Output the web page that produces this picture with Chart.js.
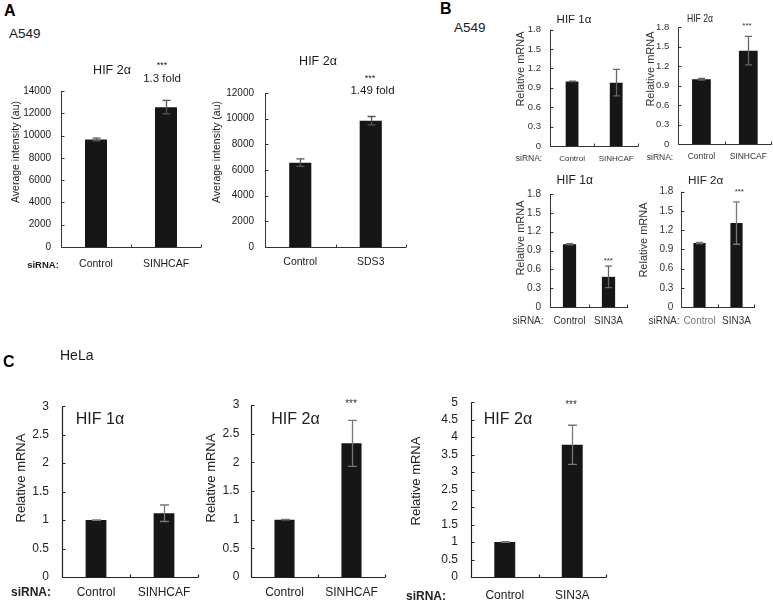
<!DOCTYPE html>
<html>
<head>
<meta charset="utf-8">
<script src="https://cdn.jsdelivr.net/npm/chart.js@4.4.1/dist/chart.umd.min.js"></script>
<style>
  html, body { margin: 0; padding: 0; background: #fff; overflow: hidden; }
  #fig { position: relative; width: 773px; height: 614px; }
  #fig canvas { position: absolute; }
  .txt { position: absolute; white-space: nowrap; line-height: 1; font-family: 'Liberation Sans', Arial, Helvetica, sans-serif; z-index: 2; }
</style>
</head>
<body>
<div id="fig"></div>
<script>
// ---- data ----
// A: A549, HIF 2α average intensity
const a1Categories = ['Control', 'SINHCAF'];
const a1Values = [9650, 12550];
const a1Errors = [120, 600];
const a1Ticks = [0, 2000, 4000, 6000, 8000, 10000, 12000, 14000];

const a2Categories = ['Control', 'SDS3'];
const a2Values = [6570, 9840];
const a2Errors = [290, 330];
const a2Ticks = [0, 2000, 4000, 6000, 8000, 10000, 12000];

// B: A549, relative mRNA
const bTicks = [0, 0.3, 0.6, 0.9, 1.2, 1.5, 1.8];
const b1Categories = ['Control', 'SINHCAF'];
const b1Values = [1.0, 0.98];
const b1Errors = [0.004, 0.205];
const b2Categories = ['Control', 'SINHCAF'];
const b2Values = [1.0, 1.44];
const b2Errors = [0.012, 0.22];
const b3Categories = ['Control', 'SIN3A'];
const b3Values = [1.0, 0.48];
const b3Errors = [0.01, 0.17];
const b4Categories = ['Control', 'SIN3A'];
const b4Values = [1.0, 1.31];
const b4Errors = [0.01, 0.33];

// C: HeLa, relative mRNA
const cTicks3 = [0, 0.5, 1, 1.5, 2, 2.5, 3];
const cTicks5 = [0, 0.5, 1, 1.5, 2, 2.5, 3, 3.5, 4, 4.5, 5];
const c1Categories = ['Control', 'SINHCAF'];
const c1Values = [1.0, 1.12];
const c1Errors = [0.005, 0.145];
const c2Categories = ['Control', 'SINHCAF'];
const c2Values = [1.0, 2.33];
const c2Errors = [0.005, 0.40];
const c3Categories = ['Control', 'SIN3A'];
const c3Values = [1.0, 3.78];
const c3Errors = [0.01, 0.56];

const FONT = "'Liberation Sans', Arial, Helvetica, sans-serif";
const fig = document.getElementById('fig');

// error bars + hand drawn axes (ticks point inwards like the original)
const decor = {
  id: 'decor',
  afterDatasetsDraw(chart, args, o) {
    const { ctx, chartArea: a, scales: { x, y } } = chart;
    const meta = chart.getDatasetMeta(0);
    const vals = chart.data.datasets[0].data;
    ctx.save();
    ctx.strokeStyle = o.errColor;
    ctx.lineWidth = o.errWidth;
    meta.data.forEach((bar, i) => {
      const hi = y.getPixelForValue(vals[i] + o.errors[i]);
      const lo = y.getPixelForValue(vals[i] - o.errors[i]);
      const cx = Math.round(bar.x) + 0.5;
      ctx.beginPath();
      ctx.moveTo(cx, hi); ctx.lineTo(cx, lo);
      ctx.moveTo(cx - o.cap, hi); ctx.lineTo(cx + o.cap, hi);
      ctx.moveTo(cx - o.cap, lo); ctx.lineTo(cx + o.cap, lo);
      ctx.stroke();
    });
    ctx.strokeStyle = o.axisColor;
    ctx.lineWidth = o.axisWidth;
    const left = a.left + 0.5, bottom = a.bottom + 0.5;
    ctx.beginPath();
    ctx.moveTo(left, a.top); ctx.lineTo(left, bottom); ctx.lineTo(a.right, bottom);
    y.ticks.forEach(t => {
      const py = Math.round(y.getPixelForValue(t.value)) + 0.5;
      ctx.moveTo(left, py); ctx.lineTo(left + o.tick, py);
    });
    const n = x.ticks.length;
    for (let i = 1; i <= n; i++) {
      const px = i < n ? (x.getPixelForValue(i - 1) + x.getPixelForValue(i)) / 2 : a.right - 0.5;
      ctx.moveTo(Math.round(px) + 0.5, bottom); ctx.lineTo(Math.round(px) + 0.5, bottom - o.tick);
    }
    ctx.stroke();
    ctx.restore();
  }
};

const L = 56, T = 10, R = 3, BOT = 26;

function panel(p) {
  const x0 = Math.round(p.x0), x1 = Math.round(p.x1), yT = Math.round(p.yT), yZ = Math.round(p.yZ);
  const cv = document.createElement('canvas');
  cv.width = x1 - x0 + L + R;
  cv.height = yZ - yT + T + BOT;
  cv.style.left = (x0 - L) + 'px';
  cv.style.top = (yT - T) + 'px';
  fig.appendChild(cv);
  const catColors = p.catColors || [p.textColor, p.textColor];
  new Chart(cv, {
    type: 'bar',
    data: {
      labels: p.categories,
      datasets: [{
        data: p.values,
        backgroundColor: '#161616',
        borderWidth: 0,
        barPercentage: p.bar,
        categoryPercentage: 1
      }]
    },
    options: {
      responsive: false,
      animation: false,
      devicePixelRatio: 1,
      layout: { padding: { top: T, right: R, left: 0, bottom: 0 } },
      plugins: {
        legend: { display: false },
        tooltip: { enabled: false },
        decor: {
          errors: p.errors, errColor: p.errColor, errWidth: p.errWidth || 1.3, cap: p.cap || 4,
          axisColor: p.axisColor, axisWidth: p.axisWidth || 1, tick: p.tickLen || 3
        }
      },
      scales: {
        x: {
          grid: { display: false, drawTicks: false },
          border: { display: false },
          ticks: {
            padding: p.xPad, maxRotation: 0, autoSkip: false,
            font: { family: FONT, size: p.catSize },
            color: c => catColors[c.index]
          },
          afterFit: s => { s.height = BOT; }
        },
        y: {
          min: 0,
          max: p.ticks[p.ticks.length - 1],
          grid: { display: false, drawTicks: false },
          border: { display: false },
          afterBuildTicks: s => { s.ticks = p.ticks.map(v => ({ value: v })); },
          ticks: {
            padding: p.yPad,
            font: { family: FONT, size: p.tickSize },
            color: p.textColor,
            callback: v => String(v)
          },
          afterFit: s => { s.width = L; }
        }
      }
    },
    plugins: [decor]
  });
}

// panel A
panel({ categories: a1Categories, values: a1Values, errors: a1Errors, ticks: a1Ticks,
  x0: 60.7, x1: 201, yT: 85, yZ: 246.7, bar: 0.314, tickSize: 10, catSize: 10.5, yPad: 10, xPad: 11,
  textColor: '#1a1a1a', axisColor: '#333', errColor: '#555', cap: 4 });
panel({ categories: a2Categories, values: a2Values, errors: a2Errors, ticks: a2Ticks,
  x0: 265, x1: 405.7, yT: 86, yZ: 247.3, bar: 0.314, tickSize: 10, catSize: 10.5, yPad: 11, xPad: 9,
  textColor: '#1a1a1a', axisColor: '#333', errColor: '#555', cap: 4 });

// panel B
panel({ categories: b1Categories, values: b1Values, errors: b1Errors, ticks: bTicks,
  x0: 550, x1: 638.6, yT: 24.7, yZ: 145.7, bar: 0.29, tickSize: 9.5, catSize: 8, yPad: 9, xPad: 7.5,
  textColor: '#333', axisColor: '#333', errColor: '#666', cap: 3.5 });
panel({ categories: b2Categories, values: b2Values, errors: b2Errors, ticks: bTicks,
  x0: 677.7, x1: 771.7, yT: 23.3, yZ: 144.3, bar: 0.40, tickSize: 9.5, catSize: 8.5, yPad: 8.7, xPad: 7.3,
  textColor: '#333', axisColor: '#333', errColor: '#666', cap: 3.5 });
panel({ categories: b3Categories, values: b3Values, errors: b3Errors, ticks: bTicks,
  x0: 550, x1: 628.6, yT: 188.7, yZ: 306.7, bar: 0.34, tickSize: 10, catSize: 10, yPad: 9, xPad: 8.3,
  textColor: '#333', axisColor: '#333', errColor: '#666', cap: 3.5 });
panel({ categories: b4Categories, values: b4Values, errors: b4Errors, ticks: bTicks,
  x0: 681, x1: 757.3, yT: 188.3, yZ: 306.7, bar: 0.33, tickSize: 10, catSize: 10, yPad: 7.7, xPad: 8.3,
  textColor: '#333', catColors: ['#777', '#333'], axisColor: '#333', errColor: '#777', cap: 3.5 });

// panel C
panel({ categories: c1Categories, values: c1Values, errors: c1Errors, ticks: cTicks3,
  x0: 62.3, x1: 197.7, yT: 395.7, yZ: 576.7, bar: 0.305, tickSize: 12, catSize: 12, yPad: 13, xPad: 8.4,
  textColor: '#222', axisColor: '#222', axisWidth: 1.2, errColor: '#777', cap: 4.5 });
panel({ categories: c2Categories, values: c2Values, errors: c2Errors, ticks: cTicks3,
  x0: 251, x1: 385, yT: 395.7, yZ: 576.7, bar: 0.30, tickSize: 12, catSize: 12, yPad: 11.7, xPad: 8.4,
  textColor: '#222', axisColor: '#222', axisWidth: 1.2, errColor: '#777', cap: 4.5 });
panel({ categories: c3Categories, values: c3Values, errors: c3Errors, ticks: cTicks5,
  x0: 471, x1: 606, yT: 392.3, yZ: 576.7, bar: 0.31, tickSize: 12, catSize: 12, yPad: 13, xPad: 11.8,
  textColor: '#222', axisColor: '#222', axisWidth: 1.2, errColor: '#777', cap: 4.5 });

// text: [string, x, y, size, options]  (x,y = centre unless left:true)
function text(s, x, y, size, o = {}) {
  const d = document.createElement('div');
  d.className = 'txt';
  d.textContent = s;
  d.style.fontSize = size + 'px';
  d.style.left = x + 'px';
  d.style.top = y + 'px';
  d.style.color = o.color || '#1a1a1a';
  if (o.bold) d.style.fontWeight = 'bold';
  let tf = o.left ? 'translate(0,-50%)' : 'translate(-50%,-50%)';
  if (o.rot) tf += ' rotate(-90deg)';
  if (o.sx) tf += ' scaleX(' + o.sx + ')';
  d.style.transform = tf;
  fig.appendChild(d);
}

text('A', 4, 10.5, 16, { bold: true, left: true, color: '#000' });
text('A549', 9, 34, 13.5, { left: true });
text('HIF 2\u03b1', 112, 69.5, 12.5);
text('***', 162, 65, 9);
text('1.3 fold', 162, 79, 11.5);
text('Average intensity (au)', 15, 152, 10.5, { rot: true });
text('siRNA:', 43, 265, 9.5, { bold: true });
text('HIF 2\u03b1', 318, 61.3, 12.5);
text('***', 370, 78, 9);
text('1.49 fold', 372.5, 91, 11.5);
text('Average intensity (au)', 216, 152, 10.5, { rot: true });

text('B', 440, 8.5, 16, { bold: true, left: true, color: '#000' });
text('A549', 454, 28, 13.5, { left: true });
text('HIF 1\u03b1', 574, 19.7, 11.5, { color: '#222' });
text('Relative mRNA', 520, 69, 11, { rot: true, color: '#333' });
text('siRNA:', 529, 157.5, 8.5, { color: '#333' });
text('HIF 2\u03b1', 700, 19, 11.5, { color: '#222', sx: 0.75 });
text('***', 747, 26, 8, { color: '#333' });
text('Relative mRNA', 650, 69, 11, { rot: true, color: '#333' });
text('siRNA:', 660, 156.7, 8.5, { color: '#333' });
text('HIF 1\u03b1', 574.7, 179.5, 12, { color: '#222' });
text('***', 608.3, 261, 8, { color: '#333' });
text('Relative mRNA', 520, 237.5, 11, { rot: true, color: '#333' });
text('siRNA:', 528, 321, 10, { color: '#333' });
text('HIF 2\u03b1', 705.7, 179.5, 11.7, { color: '#222' });
text('***', 739.3, 191.7, 8, { color: '#333' });
text('Relative mRNA', 643, 240, 11, { rot: true, color: '#333' });
text('siRNA:', 664, 321, 10, { color: '#333' });

text('C', 3, 362, 16, { bold: true, left: true, color: '#000' });
text('HeLa', 60, 354.7, 14, { left: true });
text('HIF 1\u03b1', 100, 419, 16, { color: '#222' });
text('Relative mRNA', 20, 478, 13, { rot: true, color: '#222' });
text('siRNA:', 31, 592.3, 12, { bold: true, color: '#222' });
text('HIF 2\u03b1', 295.5, 419, 16, { color: '#222' });
text('***', 351, 404, 10, { color: '#333' });
text('Relative mRNA', 210, 478, 13, { rot: true, color: '#222' });
text('HIF 2\u03b1', 508, 418.5, 16, { color: '#222' });
text('***', 571, 405, 10, { color: '#333' });
text('Relative mRNA', 414.5, 481, 13, { rot: true, color: '#222' });
text('siRNA:', 426, 596, 12, { bold: true, color: '#222' });
</script>
</body>
</html>
